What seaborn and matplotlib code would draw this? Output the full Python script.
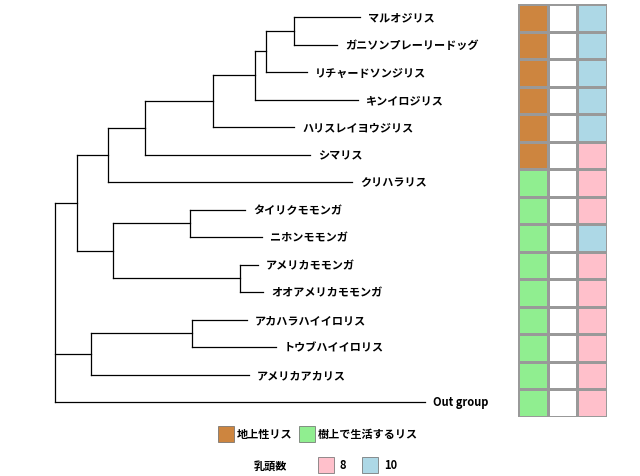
import matplotlib
matplotlib.use("Agg")
import matplotlib.pyplot as plt
from matplotlib.colors import ListedColormap
import numpy as np
import pandas as pd
import seaborn as sns

plt.rcParams["font.family"] = ["Noto Sans CJK JP", "DejaVu Sans"]

leaves = ["マルオジリス", "ガニソンプレーリードッグ", "リチャードソンジリス", "キンイロジリス",
          "ハリスレイヨウジリス", "シマリス", "クリハラリス", "タイリクモモンガ", "ニホンモモンガ",
          "アメリカモモンガ", "オオアメリカモモンガ", "アカハラハイイロリス", "トウブハイイロリス",
          "アメリカアカリス", "Out group"]
# tip depths (tree distance units from root)
leaf_depth = [305, 282, 252, 303, 239, 255, 297, 190, 207, 203, 208, 192, 221, 194, 370]
# internal nodes: (name, depth, children)
nodes = [
    ("n1", 239, [0, 1]),
    ("n2", 211, ["n1", 2]),
    ("n3", 200, ["n2", 3]),
    ("n4", 158, ["n3", 4]),
    ("n5", 90, ["n4", 5]),
    ("n6", 53, ["n5", 6]),
    ("n7", 135, [7, 8]),
    ("n8", 185, [9, 10]),
    ("n9", 58, ["n7", "n8"]),
    ("n10", 22, ["n6", "n9"]),
    ("n11", 137, [11, 12]),
    ("n12", 36, ["n11", 13]),
    ("root", 0, ["n10", "n12", 14]),
]
habitat = ["地上性リス"] * 6 + ["樹上で生活するリス"] * 9
nipples = [10, 10, 10, 10, 10, 8, 8, 8, 10, 8, 8, 8, 8, 8, 8]

fig = plt.figure(figsize=(6.4, 4.77), dpi=100)
ax = fig.add_axes([0, 0, 1, 1])
ax.set_xlim(0, 640)
ax.set_ylim(477, 0)
ax.axis("off")

x0 = 55
y0, dy = 18, 27.5
pos = {}
for i, (name, d) in enumerate(zip(leaves, leaf_depth)):
    pos[i] = (x0 + d, y0 + i * dy)
for name, d, ch in nodes:
    ys = [pos[c][1] for c in ch]
    x = x0 + d
    ax.plot([x, x], [min(ys), max(ys)], color="black", lw=0.9)
    for c in ch:
        cx, cy = pos[c]
        ax.plot([x, cx], [cy, cy], color="black", lw=0.9)
    pos[name] = (x, (min(ys) + max(ys)) / 2 if name != "root" else None)
    if name == "root":
        pass
for i, name in enumerate(leaves):
    x, y = pos[i]
    ax.text(x + 8, y, name, ha="left", va="center", fontsize=8, fontweight="bold")

# heatmap
cmap = ListedColormap(["#CD853F", "#90EE90", "#FFC0CB", "#ADD8E6"])
hab_code = [0 if h == "地上性リス" else 1 for h in habitat]
nip_code = [2 if n == 8 else 3 for n in nipples]
df = pd.DataFrame({"h": hab_code, "gap": [0] * 15, "n": nip_code})
mask = np.zeros(df.shape, dtype=bool)
mask[:, 1] = True
hax = fig.add_axes([518 / 640, 1 - 418 / 477, 89 / 640, 413 / 477])
sns.heatmap(df, ax=hax, cmap=cmap, vmin=-0.5, vmax=3.5, mask=mask, cbar=False,
            linewidths=0.8, linecolor="#999999", xticklabels=False, yticklabels=False)
hax.patch.set_alpha(0)

# legend
def sq(x, y, c):
    ax.add_patch(plt.Rectangle((x, y - 8), 16, 16, facecolor=c, edgecolor="#666666", lw=0.5))
sq(218, 435, "#CD853F")
ax.text(237, 435, "地上性リス", va="center", fontsize=8, fontweight="bold")
sq(299, 435, "#90EE90")
ax.text(318, 435, "樹上で生活するリス", va="center", fontsize=8, fontweight="bold")
ax.text(254, 466, "乳頭数", va="center", fontsize=8, fontweight="bold")
sq(318, 466, "#FFC0CB")
ax.text(340, 466, "8", va="center", fontsize=8, fontweight="bold")
sq(362, 466, "#ADD8E6")
ax.text(384, 466, "10", va="center", fontsize=8, fontweight="bold")

fig.savefig("out.png", dpi=100)
